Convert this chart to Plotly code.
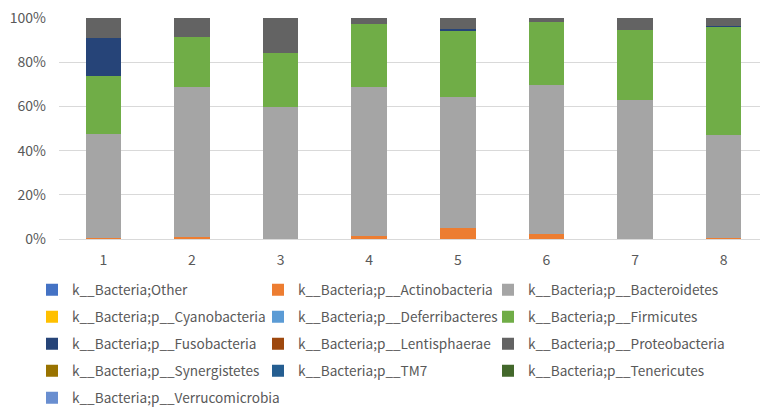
import plotly.graph_objects as go

samples = ["1", "2", "3", "4", "5", "6", "7", "8"]

phyla = [
    "k__Bacteria;Other",
    "k__Bacteria;p__Actinobacteria",
    "k__Bacteria;p__Bacteroidetes",
    "k__Bacteria;p__Cyanobacteria",
    "k__Bacteria;p__Deferribacteres",
    "k__Bacteria;p__Firmicutes",
    "k__Bacteria;p__Fusobacteria",
    "k__Bacteria;p__Lentisphaerae",
    "k__Bacteria;p__Proteobacteria",
    "k__Bacteria;p__Synergistetes",
    "k__Bacteria;p__TM7",
    "k__Bacteria;p__Tenericutes",
    "k__Bacteria;p__Verrucomicrobia",
]

colors = [
    "#4472C4", "#ED7D31", "#A5A5A5", "#FFC000", "#5B9BD5", "#70AD47",
    "#264478", "#9E480E", "#636363", "#997300", "#255E91", "#43682B", "#698ED0",
]

# relative abundance (%) per sample, one list per phylum
other           = [0.0, 0.0, 0.0, 0.0, 0.0, 0.0, 0.0, 0.0]
actinobacteria  = [0.5, 0.8, 0.0, 1.5, 4.8, 2.1, 0.0, 0.6]
bacteroidetes   = [46.9, 68.0, 59.9, 67.3, 59.5, 67.7, 62.9, 46.5]
cyanobacteria   = [0.0, 0.0, 0.0, 0.0, 0.0, 0.0, 0.0, 0.0]
deferribacteres = [0.0, 0.0, 0.0, 0.0, 0.0, 0.0, 0.0, 0.0]
firmicutes      = [26.3, 22.7, 24.1, 28.3, 30.0, 28.4, 31.5, 49.0]
fusobacteria    = [17.4, 0.0, 0.0, 0.0, 0.7, 0.0, 0.0, 0.4]
lentisphaerae   = [0.0, 0.0, 0.0, 0.0, 0.0, 0.0, 0.0, 0.0]
proteobacteria  = [8.9, 8.5, 16.0, 2.9, 5.0, 1.8, 5.6, 3.5]
synergistetes   = [0.0, 0.0, 0.0, 0.0, 0.0, 0.0, 0.0, 0.0]
tm7             = [0.0, 0.0, 0.0, 0.0, 0.0, 0.0, 0.0, 0.0]
tenericutes     = [0.0, 0.0, 0.0, 0.0, 0.0, 0.0, 0.0, 0.0]
verrucomicrobia = [0.0, 0.0, 0.0, 0.0, 0.0, 0.0, 0.0, 0.0]

series = [other, actinobacteria, bacteroidetes, cyanobacteria, deferribacteres,
          firmicutes, fusobacteria, lentisphaerae, proteobacteria, synergistetes,
          tm7, tenericutes, verrucomicrobia]

y_ticks = [0, 20, 40, 60, 80, 100]
y_tick_text = [f"{v}%" for v in y_ticks]

FONT = "Noto Sans CJK JP"
GREY = "#595959"

W, H = 760, 409
ml, mr, mt, mb = 59, 0, 18, 170
pw, ph = W - ml - mr, H - mt - mb


def px_to_paper_x(px):
    return (px - ml) / pw


def px_to_paper_y(py):
    return (H - mb - py) / ph


# legend grid: 3 columns, one small legend per entry
col_text_x = [74, 300, 530]
row_y = [290, 317, 344, 371, 398]

fig = go.Figure()
legends = {}
for i, (name, vals, col) in enumerate(zip(phyla, series, colors)):
    key = "legend" if i == 0 else f"legend{i + 1}"
    r, c = divmod(i, 3)
    fig.add_trace(go.Bar(
        x=samples, y=vals, name=name,
        marker=dict(color=col, line=dict(width=0)),
        legend=key,
    ))
    legends[key] = dict(
        orientation="h",
        font=dict(family=FONT, size=13.6, color=GREY),
        bgcolor="rgba(0,0,0,0)",
        xanchor="left",
        yanchor="middle",
        x=px_to_paper_x(col_text_x[c] - 42),
        y=px_to_paper_y(row_y[r]),
        itemclick=False,
        itemdoubleclick=False,
    )

fig.update_layout(
    width=W, height=H,
    margin=dict(l=ml, r=mr, t=mt, b=mb, pad=0, autoexpand=False),
    barmode="stack",
    bargap=0.6,
    plot_bgcolor="white",
    paper_bgcolor="white",
    font=dict(family=FONT, size=13, color=GREY),
    showlegend=True,
    xaxis=dict(
        type="category",
        range=[-0.5, 7.41],
        showgrid=False,
        showline=True, linecolor="#D9D9D9", linewidth=1,
        ticks="", tickfont=dict(family=FONT, size=14, color=GREY),
        ticklabelstandoff=8,
        fixedrange=True,
    ),
    yaxis=dict(
        range=[0, 100],
        tickmode="array",
        tickvals=y_ticks,
        ticktext=y_tick_text,
        showgrid=True, gridcolor="#D9D9D9", gridwidth=1,
        zeroline=False,
        ticks="", tickfont=dict(family=FONT, size=14, color=GREY),
        ticklabelstandoff=12,
        fixedrange=True,
    ),
    **legends,
)

fig.write_html("out.html")
